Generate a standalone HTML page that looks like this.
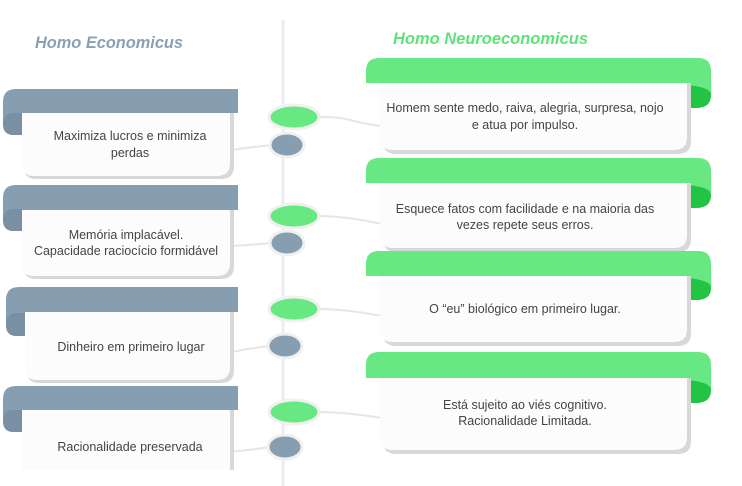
<!DOCTYPE html>
<html><head><meta charset="utf-8"><style>
html,body{margin:0;padding:0;background:#fff;}
svg{display:block;font-family:"Liberation Sans",sans-serif;}
.t{font-size:12.5px;fill:#444;text-anchor:middle;}
</style></head><body>
<svg width="742" height="486" viewBox="0 0 742 486" xmlns="http://www.w3.org/2000/svg">
<rect width="742" height="486" fill="#fff"/>
<line x1="283" y1="20" x2="283" y2="486" stroke="#ececec" stroke-width="3"/>
<text x="35" y="48" font-size="17" font-weight="bold" font-style="italic" fill="#8aa0b4" textLength="148" lengthAdjust="spacingAndGlyphs">Homo Economicus</text>
<text x="393" y="44" font-size="17" font-weight="bold" font-style="italic" fill="#5ee37a" textLength="195" lengthAdjust="spacingAndGlyphs">Homo Neuroeconomicus</text>

<g fill="none" stroke="#e6e6e6" stroke-width="2">
<path d="M318 117 Q340 117 350 120 Q370 125 382 126"/>
<path d="M270 145 Q255 147 245 148 L232 150"/>
<path d="M318 216 Q345 216 382 224"/>
<path d="M270 243 Q250 245 232 246"/>
<path d="M318 309 Q345 309 382 316"/>
<path d="M270 346 Q250 348 232 352"/>
<path d="M318 412 Q345 412 382 418"/>
<path d="M270 447 Q250 450 228 452"/>
</g>

<g>
 <path d="M3 102 Q3 89 16 89 L238 89 L238 113 L22 113 L22 135 L14 135 Q3 135 3 124 Z" fill="#879eb1"/>
 <path d="M3 124 Q3 113 14 113 L22 113 L22 135 L14 135 Q3 135 3 124Z" fill="#7990a4"/>
 <path d="M24 113 L234 113 L234 166 Q234 179 221 179 L36 179 Q24 179 24 167 Z" fill="#d8d8d8"/>
 <path d="M22 113 L230 113 L230 163 Q230 176 217 176 L34 176 Q22 176 22 164 Z" fill="#fcfcfc"/>
 <text class="t" x="130" y="140">Maximiza lucros e minimiza</text>
 <text class="t" x="130" y="157">perdas</text>
 <path d="M3 198 Q3 185 16 185 L238 185 L238 210 L22 210 L22 231 L14 231 Q3 231 3 220 Z" fill="#879eb1"/>
 <path d="M3 220 Q3 209 14 209 L22 209 L22 231 L14 231 Q3 231 3 220Z" fill="#7990a4"/>
 <path d="M24 210 L234 210 L234 266 Q234 279 221 279 L36 279 Q24 279 24 267 Z" fill="#d8d8d8"/>
 <path d="M22 210 L230 210 L230 263 Q230 276 217 276 L34 276 Q22 276 22 264 Z" fill="#fcfcfc"/>
 <text class="t" x="126" y="239">Memória implacável.</text>
 <text class="t" x="126" y="255">Capacidade raciocício formidável</text>
 <path d="M6 300 Q6 287 19 287 L238 287 L238 312 L25 312 L25 336 L17 336 Q6 336 6 325 Z" fill="#879eb1"/>
 <path d="M6 325 Q6 313 17 313 L25 313 L25 336 L17 336 Q6 336 6 325Z" fill="#7990a4"/>
 <path d="M27 312 L234 312 L234 370 Q234 383 221 383 L39 383 Q27 383 27 371 Z" fill="#d8d8d8"/>
 <path d="M25 312 L230 312 L230 367 Q230 380 217 380 L37 380 Q25 380 25 368 Z" fill="#fcfcfc"/>
 <text class="t" x="131" y="351">Dinheiro em primeiro lugar</text>
 <path d="M3 399 Q3 386 16 386 L238 386 L238 410 L22 410 L22 432 L14 432 Q3 432 3 421 Z" fill="#879eb1"/>
 <path d="M3 421 Q3 410 14 410 L22 410 L22 432 L14 432 Q3 432 3 421Z" fill="#7990a4"/>
 <path d="M24 410 L234 410 L234 470 L24 470 Z" fill="#d8d8d8"/>
 <path d="M22 410 L230 410 L230 470 L22 470 Z" fill="#fcfcfc"/>
 <text class="t" x="130" y="451">Racionalidade preservada</text>
</g>

<g>
 <path d="M366 71 Q366 58 379 58 L698 58 Q711 58 711 71 L711 93 Q711 108 696 108 L687 108 L687 83 L366 83 Z" fill="#68e883"/>
 <path d="M687 85 Q711 87 711 95 Q711 108 696 108 L687 108 Z" fill="#22c443"/>
 <path d="M383 83 L691 83 L691 141 Q691 154 678 154 L396 154 Q383 154 383 141 Z" fill="#d8d8d8"/>
 <path d="M380 83 L687 83 L687 137 Q687 150 674 150 L393 150 Q380 150 380 137 Z" fill="#fcfcfc"/>
 <text class="t" x="525" y="112">Homem sente medo, raiva, alegria, surpresa, nojo</text>
 <text class="t" x="525" y="129">e atua por impulso.</text>
 <path d="M366 171 Q366 158 379 158 L698 158 Q711 158 711 171 L711 193 Q711 208 696 208 L687 208 L687 183 L366 183 Z" fill="#68e883"/>
 <path d="M687 185 Q711 187 711 195 Q711 208 696 208 L687 208 Z" fill="#22c443"/>
 <path d="M383 183 L691 183 L691 239 Q691 252 678 252 L396 252 Q383 252 383 239 Z" fill="#d8d8d8"/>
 <path d="M380 183 L687 183 L687 235 Q687 248 674 248 L393 248 Q380 248 380 235 Z" fill="#fcfcfc"/>
 <text class="t" x="525" y="213">Esquece fatos com facilidade e na maioria das</text>
 <text class="t" x="525" y="229">vezes repete seus erros.</text>
 <path d="M366 264 Q366 251 379 251 L698 251 Q711 251 711 264 L711 286 Q711 300 696 300 L687 300 L687 276 L366 276 Z" fill="#68e883"/>
 <path d="M687 278 Q711 280 711 288 Q711 300 696 300 L687 300 Z" fill="#22c443"/>
 <path d="M383 276 L691 276 L691 333 Q691 346 678 346 L396 346 Q383 346 383 333 Z" fill="#d8d8d8"/>
 <path d="M380 276 L687 276 L687 329 Q687 342 674 342 L393 342 Q380 342 380 329 Z" fill="#fcfcfc"/>
 <text class="t" x="525" y="313">O “eu” biológico em primeiro lugar.</text>
 <path d="M366 365 Q366 352 379 352 L698 352 Q711 352 711 365 L711 388 Q711 403 696 403 L687 403 L687 378 L366 378 Z" fill="#68e883"/>
 <path d="M687 380 Q711 382 711 390 Q711 403 696 403 L687 403 Z" fill="#22c443"/>
 <path d="M383 378 L691 378 L691 441 Q691 454 678 454 L396 454 Q383 454 383 441 Z" fill="#d8d8d8"/>
 <path d="M380 378 L687 378 L687 437 Q687 450 674 450 L393 450 Q380 450 380 437 Z" fill="#fcfcfc"/>
 <text class="t" x="525" y="409">Está sujeito ao viés cognitivo.</text>
 <text class="t" x="525" y="425">Racionalidade Limitada.</text>
</g>

<g stroke="#f0f0f0" stroke-width="3">
 <ellipse cx="294" cy="117" rx="25" ry="12" fill="#68e883"/>
 <ellipse cx="287" cy="145" rx="17" ry="12" fill="#879eb1"/>
 <ellipse cx="294" cy="216" rx="25" ry="12" fill="#68e883"/>
 <ellipse cx="287" cy="243" rx="17" ry="12" fill="#879eb1"/>
 <ellipse cx="294" cy="309" rx="25" ry="12" fill="#68e883"/>
 <ellipse cx="285" cy="346" rx="17" ry="12" fill="#879eb1"/>
 <ellipse cx="294" cy="412" rx="25" ry="12" fill="#68e883"/>
 <ellipse cx="285" cy="447" rx="17" ry="12" fill="#879eb1"/>
</g>
</svg>
</body></html>
